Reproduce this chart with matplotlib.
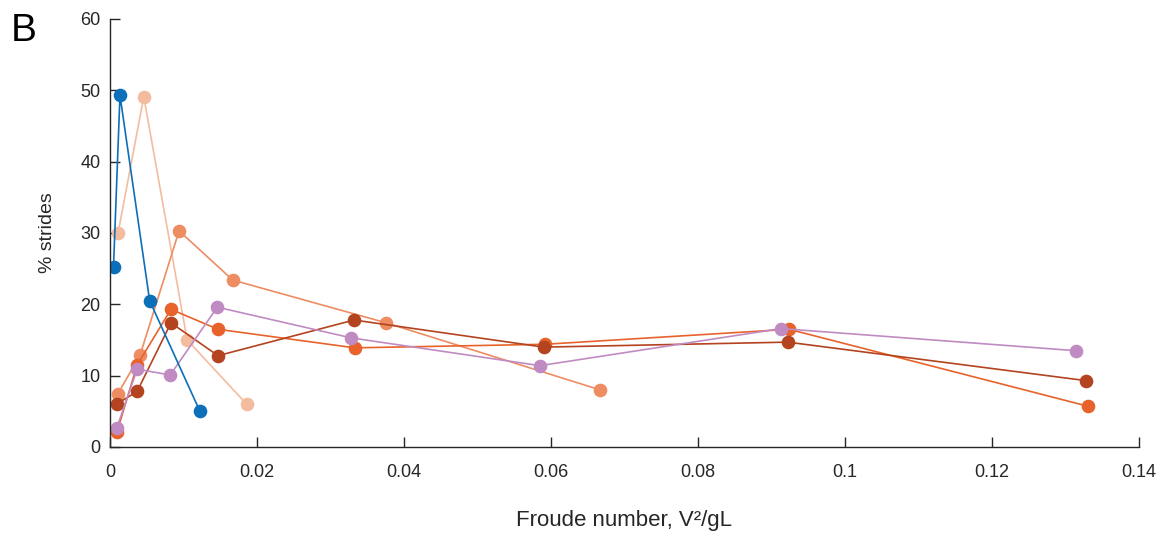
import matplotlib
matplotlib.use("Agg")
import matplotlib.pyplot as plt
import numpy as np

plt.rcParams['font.family'] = ['Liberation Sans', 'DejaVu Sans']

# ---- data (x = Froude number, y = % strides) ----
blue_x = [0.00048, 0.00136, 0.0054, 0.01224]
blue_y = [25.2, 49.3, 20.5, 5.0]

peach_x = [0.0011, 0.0046, 0.0105, 0.0186]
peach_y = [30.0, 49.1, 15.0, 6.0]

salmon_x = [0.00105, 0.0041, 0.0094, 0.0167, 0.0376, 0.0667]
salmon_y = [7.4, 12.9, 30.3, 23.4, 17.4, 8.0]

orange_x = [0.00095, 0.0037, 0.0083, 0.0147, 0.0333, 0.0592, 0.0924, 0.1331]
orange_y = [2.1, 11.5, 19.3, 16.5, 13.9, 14.4, 16.5, 5.7]

rust_x = [0.0009, 0.0037, 0.0083, 0.0147, 0.0332, 0.0590, 0.0922, 0.1328]
rust_y = [6.0, 7.8, 17.4, 12.8, 17.8, 14.0, 14.7, 9.3]

purple_x = [0.0009, 0.0037, 0.0082, 0.0146, 0.0328, 0.0585, 0.0913, 0.1314]
purple_y = [2.6, 10.9, 10.1, 19.6, 15.3, 11.4, 16.6, 13.5]

x_ticks = [0, 0.02, 0.04, 0.06, 0.08, 0.1, 0.12, 0.14]
x_ticklabels = ['0', '0.02', '0.04', '0.06', '0.08', '0.1', '0.12', '0.14']
y_ticks = [0, 10, 20, 30, 40, 50, 60]

series = [
    (peach_x, peach_y, '#F4BC9F'),
    (salmon_x, salmon_y, '#EE8C62'),
    (orange_x, orange_y, '#E8622B'),
    (rust_x, rust_y, '#B3441F'),
    (purple_x, purple_y, '#C08BC2'),
    (blue_x, blue_y, '#0B6FBA'),
]

fig = plt.figure(figsize=(11.65, 5.35), dpi=100)
ax = fig.add_axes([0.0944, 0.1645, 0.8833, 0.8])

for xs, ys, col in series:
    ax.plot(xs, ys, '-o', color=col, lw=1.2, ms=8.8, mec=col, mfc=col)

ax.set_xlim(0, 0.14)
ax.set_ylim(0, 60)
ax.set_xticks(x_ticks)
ax.set_xticklabels(x_ticklabels)
ax.set_yticks(y_ticks)

for s in ['top', 'right']:
    ax.spines[s].set_visible(False)
for s in ['left', 'bottom']:
    ax.spines[s].set_color('#262626')
    ax.spines[s].set_linewidth(1.0)

ax.tick_params(direction='in', length=7, width=1, colors='#262626',
               labelsize=13, labelcolor='#262626')
ax.tick_params(axis='x', pad=12)
ax.tick_params(axis='y', pad=7)

ax.set_xlabel('Froude number, V\u00b2/gL', fontsize=16, color='#262626', labelpad=21)
ax.set_ylabel('% strides', fontsize=14, color='#262626', labelpad=17)

fig.text(0.009, 0.975, 'B', fontsize=28, va='top', ha='left', color='black')

plt.savefig('out.png', dpi=100)
